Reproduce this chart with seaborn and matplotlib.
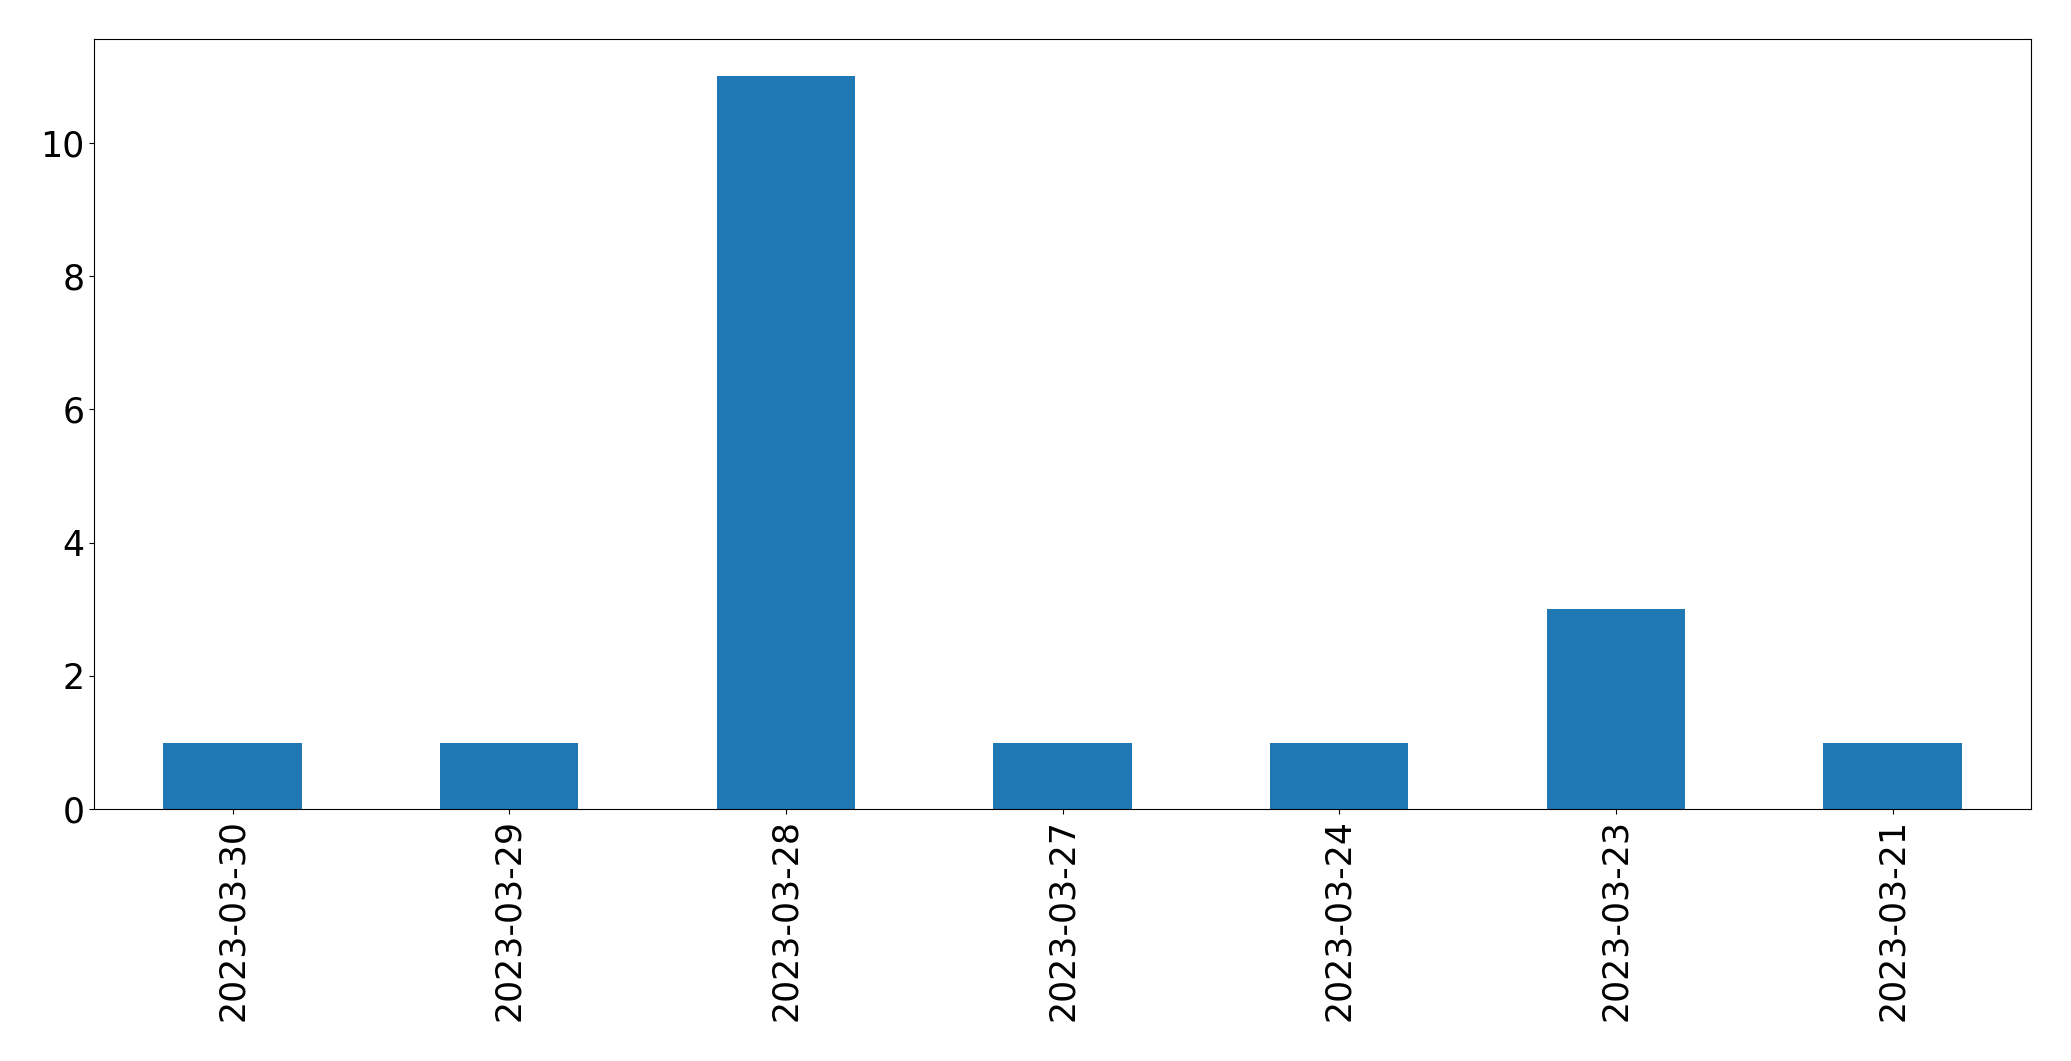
import matplotlib
matplotlib.use("Agg")
import matplotlib.pyplot as plt
import seaborn as sns
import pandas as pd

dates = ["2023-03-30", "2023-03-29", "2023-03-28", "2023-03-27",
         "2023-03-24", "2023-03-23", "2023-03-21"]
counts = [1, 1, 11, 1, 1, 3, 1]

df = pd.DataFrame({"date": dates, "count": counts})

fig = plt.figure(figsize=(20.71, 10.61), dpi=100)
ax = fig.add_axes([94.3 / 2071, 1 - 809.3 / 1061, (2031 - 94.3) / 2071, (809.3 - 39.3) / 1061])

sns.barplot(data=df, x="date", y="count", order=dates, color="#1f77b4",
            saturation=1, width=0.5, ax=ax, errorbar=None, linewidth=0)

ax.set_xlim(-0.5, 6.5)
ax.set_ylim(0, 11.55)
ax.set_xlabel("")
ax.set_ylabel("")
ax.tick_params(axis="both", labelsize=25)
for lbl in ax.get_xticklabels():
    lbl.set_rotation(90)
for s in ax.spines.values():
    s.set_visible(True)

fig.savefig("out.png", dpi=100)
